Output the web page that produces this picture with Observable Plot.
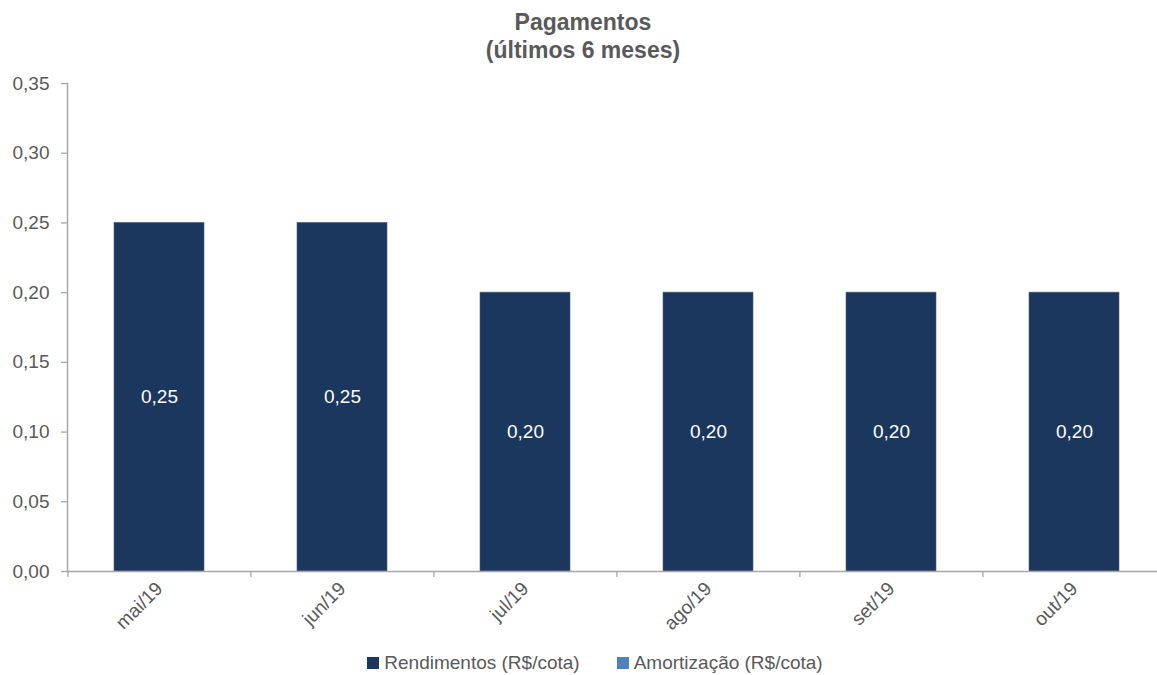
<!DOCTYPE html>
<html>
<head>
<meta charset="utf-8">
<script src="https://cdn.jsdelivr.net/npm/d3@7"></script>
<script src="https://cdn.jsdelivr.net/npm/@observablehq/plot@0.6"></script>
<style>
  html, body { margin: 0; padding: 0; background: #fff; overflow: hidden; }
  #wrap { position: relative; width: 1157px; height: 675px; overflow: hidden; font-family: "Liberation Sans", Arial, sans-serif; color: #595959; }
  #title { position: absolute; left: 0; width: 1166px; top: 8px; text-align: center; font-weight: bold; font-size: 23px; line-height: 28px; color: #595959; }
  #chart { position: absolute; left: 0; top: 0; width: 1166px; }
  #chart svg { max-width: none !important; }
  #legend { position: absolute; left: 12px; width: 1166px; top: 650px; display: flex; justify-content: center; gap: 37px; font-size: 19px; line-height: 26px; color: #595959; }
  .item { display: flex; align-items: center; gap: 5px; }
  .sw { width: 12px; height: 12px; display: inline-block; }
</style>
</head>
<body>
<div id="wrap">
  <div id="chart"></div>
  <div id="title"></div>
  <div id="legend"></div>
</div>
<script>
const titleLines = ["Pagamentos", "(últimos 6 meses)"];
const months = ["mai/19", "jun/19", "jul/19", "ago/19", "set/19", "out/19"];
const rendimentos = [0.25, 0.25, 0.20, 0.20, 0.20, 0.20];
const amortizacao = [0, 0, 0, 0, 0, 0];
const seriesNames = ["Rendimentos (R$/cota)", "Amortização (R$/cota)"];
const seriesColors = ["#1b375e", "#4f81bd"];
const yTicks = [0, 0.05, 0.10, 0.15, 0.20, 0.25, 0.30, 0.35];

const data = months.map((m, i) => ({month: m, rend: rendimentos[i], amort: amortizacao[i]}));
const fmt = v => v.toFixed(2).replace(".", ",");

const W = 1166, H = 675, mL = 67, mR = 0, mT = 83, mB = 104;
const step = (W - mL - mR) / months.length;
const axisColor = "#a6a6a6";
const textColor = "#595959";

const plot = Plot.plot({
  width: W, height: H,
  marginLeft: mL, marginRight: mR, marginTop: mT, marginBottom: mB,
  style: {fontFamily: "'Liberation Sans', Arial, sans-serif", fontSize: "19px", color: textColor, background: "transparent", overflow: "visible", maxWidth: "none"},
  x: {domain: months, paddingInner: 0.508, paddingOuter: 0.254, align: 0.5, label: null},
  y: {domain: [0, 0.35], label: null},
  marks: [
    Plot.barY(data, {x: "month", y: "rend", fill: seriesColors[0], stroke: "#4a6283", strokeWidth: 0.6}),
    Plot.barY(data, {x: "month", y1: "rend", y2: d => d.rend + d.amort, fill: seriesColors[1]}),
    Plot.text(data, {x: "month", y: d => d.rend / 2, text: d => fmt(d.rend), fill: "white", fontSize: 19}),
    Plot.ruleY([0], {stroke: axisColor, strokeWidth: 1.5}),
    Plot.frame({anchor: "left", stroke: axisColor, strokeWidth: 1.5}),
    Plot.axisY({ticks: yTicks, tickFormat: fmt, tickSize: 6, tickPadding: 12, stroke: axisColor, fill: textColor, fontSize: 19, strokeWidth: 1.3}),
    Plot.axisX({tickSize: 6, tickFormat: () => "", dx: -step / 2, stroke: axisColor, strokeWidth: 1.3}),
    Plot.axisX({tickSize: 0, tickRotate: -45, tickPadding: 14, fill: textColor, fontSize: 19})
  ]
});
document.getElementById("chart").appendChild(plot);

document.getElementById("title").innerHTML = titleLines.map(t => `<div>${t}</div>`).join("");
document.getElementById("legend").innerHTML = seriesNames.map((n, i) =>
  `<span class="item"><span class="sw" style="background:${seriesColors[i]}"></span>${n}</span>`).join("");
</script>
</body>
</html>
